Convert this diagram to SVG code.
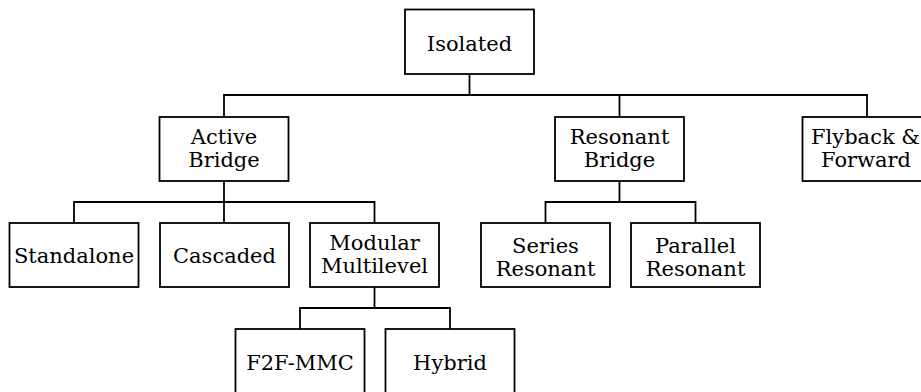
<svg xmlns="http://www.w3.org/2000/svg" width="921" height="392" viewBox="0 0 921 392">
  <style>
    .box { fill: #ffffff; stroke: #000000; stroke-width: 1.8; }
    .wire { fill: none; stroke: #000000; stroke-width: 1.8; }
    .lbl { font-family: "DejaVu Serif", "Liberation Serif", serif; font-size: 21px; fill: #000000; text-anchor: middle; }
  </style>
  <rect width="921" height="392" fill="#ffffff"/>

  <!-- tree wiring -->
  <g id="connectors">
    <path class="wire" d="M469.5 74 V95"/>
    <path class="wire" d="M224 117 V95 H867 V117"/>
    <path class="wire" d="M619.5 95 V117"/>
    <path class="wire" d="M224 181 V202"/>
    <path class="wire" d="M74 223 V202 H374.5 V223"/>
    <path class="wire" d="M224 202 V223"/>
    <path class="wire" d="M619.5 181 V202"/>
    <path class="wire" d="M545.5 223 V202 H695.5 V223"/>
    <path class="wire" d="M374.5 287 V308"/>
    <path class="wire" d="M300 329 V308 H450 V329"/>
  </g>

  <!-- root -->
  <g id="isolated">
    <rect class="box" x="405" y="9.5" width="129" height="64.5"/>
    <text class="lbl" x="469.5" y="50.5">Isolated</text>
  </g>

  <!-- first level -->
  <g id="active-bridge">
    <rect class="box" x="159.5" y="117" width="129" height="64"/>
    <text class="lbl" x="224" y="143.5">Active<tspan x="224" dy="23">Bridge</tspan></text>
  </g>
  <g id="resonant-bridge">
    <rect class="box" x="555" y="117" width="129" height="64"/>
    <text class="lbl" x="619.5" y="143.5">Resonant<tspan x="619.5" dy="23">Bridge</tspan></text>
  </g>
  <g id="flyback-forward">
    <rect class="box" x="802.5" y="117" width="129" height="64"/>
    <text class="lbl" x="865.5" y="143.5">Flyback &amp;<tspan x="866" dy="23">Forward</tspan></text>
  </g>

  <!-- second level -->
  <g id="standalone">
    <rect class="box" x="9.5" y="223" width="129" height="64"/>
    <text class="lbl" x="74" y="263">Standalone</text>
  </g>
  <g id="cascaded">
    <rect class="box" x="160" y="223" width="129" height="64"/>
    <text class="lbl" x="224.5" y="263">Cascaded</text>
  </g>
  <g id="modular-multilevel">
    <rect class="box" x="310" y="223" width="129" height="64"/>
    <text class="lbl" x="374.5" y="249.5">Modular<tspan x="374.5" dy="23">Multilevel</tspan></text>
  </g>
  <g id="series-resonant">
    <rect class="box" x="481" y="223" width="129" height="64"/>
    <text class="lbl" x="545.5" y="252.5">Series<tspan x="545.5" dy="23">Resonant</tspan></text>
  </g>
  <g id="parallel-resonant">
    <rect class="box" x="631" y="223" width="129" height="64"/>
    <text class="lbl" x="695.5" y="252.5">Parallel<tspan x="695.5" dy="23">Resonant</tspan></text>
  </g>

  <!-- third level -->
  <g id="f2f-mmc">
    <rect class="box" x="235.5" y="329" width="129" height="65"/>
    <text class="lbl" x="300" y="369.5">F2F-MMC</text>
  </g>
  <g id="hybrid">
    <rect class="box" x="385.5" y="329" width="129" height="65"/>
    <text class="lbl" x="450" y="369.5">Hybrid</text>
  </g>
</svg>
